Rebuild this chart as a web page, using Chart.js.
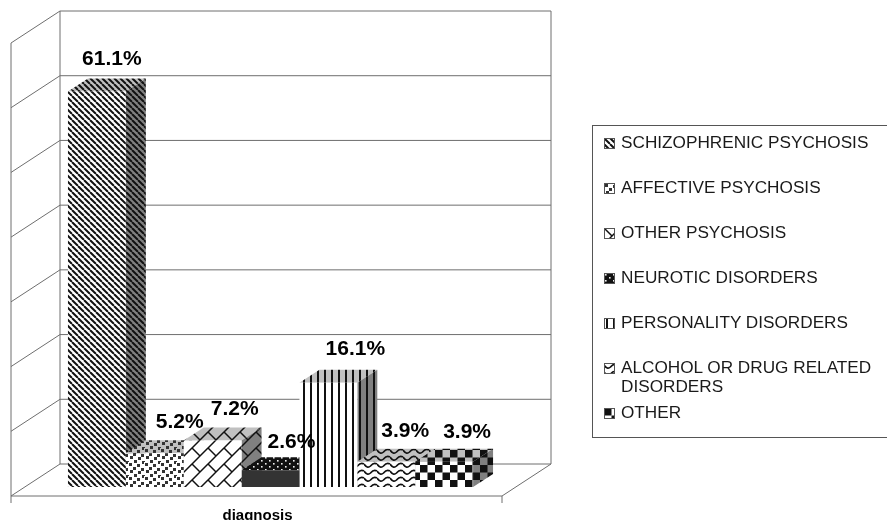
<!DOCTYPE html>
<html>
<head>
<meta charset="utf-8">
<title>diagnosis</title>
<script src="https://cdn.jsdelivr.net/npm/chart.js@4"></script>
<style>
    html, body { margin: 0; padding: 0; background: #fff; }
    #wrap { position: relative; width: 887px; height: 520px; overflow: hidden; }
    #legend {
        position: absolute; left: 592px; top: 125px; width: 300px; height: 313px;
        box-sizing: border-box; border: 1px solid #555; padding: 7px 0 0 11px;
        font-family: "Liberation Sans", Arial, sans-serif; font-size: 17.2px; line-height: 19px; color: #1a1a1a;
    }
    .row { display: flex; align-items: flex-start; margin-bottom: 26px; width: 272px; }
    .row:nth-child(6) { margin-bottom: 7px; }
    .row canvas { flex: none; width: 11px; height: 11px; margin: 5px 6px 0 0; }
</style>
</head>
<body>
<div id="wrap">
    <canvas id="barChart" width="887" height="520"></canvas>
    <div id="legend"></div>
</div>
<script>
// ===== Data =====
const categories = ['diagnosis'];
const seriesNames = [
    'SCHIZOPHRENIC PSYCHOSIS',
    'AFFECTIVE PSYCHOSIS',
    'OTHER PSYCHOSIS',
    'NEUROTIC DISORDERS',
    'PERSONALITY DISORDERS',
    'ALCOHOL OR DRUG RELATED DISORDERS',
    'OTHER'
];
const seriesValues = [61.1, 5.2, 7.2, 2.6, 16.1, 3.9, 3.9];
const seriesFills = ['stripes', 'confetti', 'bricks', 'dots', 'verticals', 'waves', 'checks'];

// ===== 3D box geometry (px) =====
const BAR_DEPTH = { x: 20, y: -13 };
const WALL_BACK = { x: 35, y: -23 };
const WALL_FRONT = { x: -14, y: 9 };
const WALL_COLOR = '#6e6e6e';
const LABEL_OFFSETS = [[15, -32], [25, -31], [22, -31], [21, -28], [27, -34], [19, -31], [23, -30]];

// ===== Hatch fills =====
const hatchTiles = {
    stripes: { w: 6, h: 6, draw(c, ink) {
        c.strokeStyle = ink; c.lineWidth = 2;
        for (let i = -6; i <= 6; i += 6) line(c, i, 0, i + 6, 6);
    } },
    confetti: { w: 16, h: 14, draw(c, ink) {
        c.fillStyle = '#333';
        [[1, 1], [9, 2], [5, 5], [13, 6], [2, 8], [10, 9], [6, 12], [14, 13]].forEach(([x, y]) => {
            c.fillRect(x, y, 3, 3);
            if (y + 3 > 14) c.fillRect(x, y - 14, 3, 3);
            if (x + 3 > 16) c.fillRect(x - 16, y, 3, 3);
        });
    } },
    bricks: { w: 16, h: 16, draw(c, ink) {
        c.strokeStyle = ink; c.lineWidth = 1.5;
        line(c, -1, 17, 17, -1);
        line(c, -1, 1, 1, -1);
        line(c, 15, 17, 17, 15);
        line(c, 0, 0, 8, 8);
    } },
    dots: { w: 8, h: 6, bg: '#111', draw(c) {
        c.fillStyle = '#eee';
        c.fillRect(1, 1, 1.6, 1.6);
        c.fillRect(5, 4, 1.6, 1.6);
    } },
    verticals: { w: 7, h: 7, draw(c, ink) {
        c.fillStyle = ink;
        c.fillRect(2, 0, 2, 7);
    } },
    waves: { w: 13, h: 7, draw(c, ink) {
        c.strokeStyle = ink; c.lineWidth = 1.7;
        c.beginPath();
        c.moveTo(0, 2);
        c.quadraticCurveTo(3.25, 7, 6.5, 4);
        c.quadraticCurveTo(9.75, 0, 13, 2);
        c.stroke();
    } },
    checks: { w: 15, h: 15, draw(c, ink) {
        c.fillStyle = ink;
        c.fillRect(0, 0, 7.5, 7.5);
        c.fillRect(7.5, 7.5, 7.5, 7.5);
    } }
};

function line(c, x1, y1, x2, y2) {
    c.beginPath();
    c.moveTo(x1, y1);
    c.lineTo(x2, y2);
    c.stroke();
}

function hatch(target, name, paper) {
    const tile = hatchTiles[name];
    const cv = document.createElement('canvas');
    cv.width = tile.w;
    cv.height = tile.h;
    const c = cv.getContext('2d');
    c.fillStyle = tile.bg || paper;
    c.fillRect(0, 0, tile.w, tile.h);
    tile.draw(c, '#111');
    return target.createPattern(cv, 'repeat');
}

// ===== Plugin: walls, floor and the top/side faces of each bar =====
const boxPlugin = {
    id: 'box3d',
    beforeDatasetsDraw(chart) {
        const { ctx, chartArea, scales: { y } } = chart;
        const { left, right, bottom } = chartArea;
        ctx.save();
        ctx.strokeStyle = WALL_COLOR;
        ctx.lineWidth = 1;

        const backL = left + WALL_BACK.x, backR = right + WALL_BACK.x;
        const frontL = left + WALL_FRONT.x, frontR = right + WALL_FRONT.x;

        // gridlines run along the back wall and fold down the left wall
        y.ticks.forEach(t => {
            const py = y.getPixelForValue(t.value);
            line(ctx, backL, py + WALL_BACK.y, backR, py + WALL_BACK.y);
            line(ctx, backL, py + WALL_BACK.y, frontL, py + WALL_FRONT.y);
        });
        const top = y.getPixelForValue(y.max);
        line(ctx, backL, top + WALL_BACK.y, backL, bottom + WALL_BACK.y);
        line(ctx, backR, top + WALL_BACK.y, backR, bottom + WALL_BACK.y);
        line(ctx, frontL, top + WALL_FRONT.y, frontL, bottom + WALL_FRONT.y + 7);

        // floor edges
        line(ctx, frontL, bottom + WALL_FRONT.y, frontR, bottom + WALL_FRONT.y);
        line(ctx, backR, bottom + WALL_BACK.y, frontR, bottom + WALL_FRONT.y);
        line(ctx, frontR, bottom + WALL_FRONT.y, frontR, bottom + WALL_FRONT.y + 7);

        chart.data.datasets.forEach((ds, i) => {
            const bar = chart.getDatasetMeta(i).data[0];
            const x0 = bar.x - bar.width / 2, x1 = bar.x + bar.width / 2;
            const dx = BAR_DEPTH.x, dy = BAR_DEPTH.y;

            ctx.fillStyle = hatch(ctx, seriesFills[i], '#c0c0c0');
            ctx.beginPath();
            ctx.moveTo(x0, bar.y);
            ctx.lineTo(x0 + dx, bar.y + dy);
            ctx.lineTo(x1 + dx, bar.y + dy);
            ctx.lineTo(x1, bar.y);
            ctx.closePath();
            ctx.fill();

            ctx.fillStyle = hatch(ctx, seriesFills[i], '#808080');
            ctx.beginPath();
            ctx.moveTo(x1, bar.y);
            ctx.lineTo(x1 + dx, bar.y + dy);
            ctx.lineTo(x1 + dx, bar.base + dy);
            ctx.lineTo(x1, bar.base);
            ctx.closePath();
            ctx.fill();
        });
        ctx.restore();
    },
    afterDatasetsDraw(chart) {
        const { ctx } = chart;
        ctx.save();
        ctx.font = 'bold 21px "Liberation Sans", Arial, sans-serif';
        ctx.fillStyle = '#000';
        ctx.textAlign = 'center';
        ctx.textBaseline = 'middle';
        chart.data.datasets.forEach((ds, i) => {
            const bar = chart.getDatasetMeta(i).data[0];
            const [ox, oy] = LABEL_OFFSETS[i];
            ctx.fillText(ds.data[0].toFixed(1) + '%', bar.x + ox, bar.y + oy);
        });
        ctx.restore();
    }
};

// ===== Chart =====
const barCtx = document.getElementById('barChart').getContext('2d');

new Chart(barCtx, {
    type: 'bar',
    data: {
        labels: categories,
        datasets: seriesNames.map((name, i) => ({
            label: name,
            data: [seriesValues[i]],
            backgroundColor: seriesFills[i] === 'dots' ? '#333333' : hatch(barCtx, seriesFills[i], '#ffffff'),
            borderWidth: 0,
            categoryPercentage: 0.825,
            barPercentage: 1
        }))
    },
    options: {
        responsive: false,
        animation: false,
        layout: { padding: { left: 25, right: 371, top: 34, bottom: 0 } },
        plugins: { legend: { display: false }, tooltip: { enabled: false } },
        scales: {
            x: {
                grid: { display: false },
                border: { display: false },
                afterFit: (scale) => { scale.height = 33; },
                ticks: {
                    color: '#000',
                    labelOffset: -13,
                    padding: 12,
                    font: { family: '"Liberation Sans", Arial, sans-serif', size: 15, weight: 'bold' }
                }
            },
            y: {
                min: 0,
                max: 70,
                grid: { display: false },
                border: { display: false },
                afterFit: (scale) => { scale.width = 0; },
                ticks: { display: false, stepSize: 10 }
            }
        }
    },
    plugins: [boxPlugin]
});

// ===== Legend =====
const legendEl = document.getElementById('legend');
seriesNames.forEach((name, i) => {
    const row = document.createElement('div');
    row.className = 'row';
    const swatch = document.createElement('canvas');
    swatch.width = 11;
    swatch.height = 11;
    const c = swatch.getContext('2d');
    c.fillStyle = hatch(c, seriesFills[i], '#ffffff');
    c.fillRect(0, 0, 11, 11);
    c.strokeStyle = '#555';
    c.strokeRect(0.5, 0.5, 10, 10);
    const text = document.createElement('span');
    text.textContent = name;
    row.append(swatch, text);
    legendEl.append(row);
});
</script>
</body>
</html>
